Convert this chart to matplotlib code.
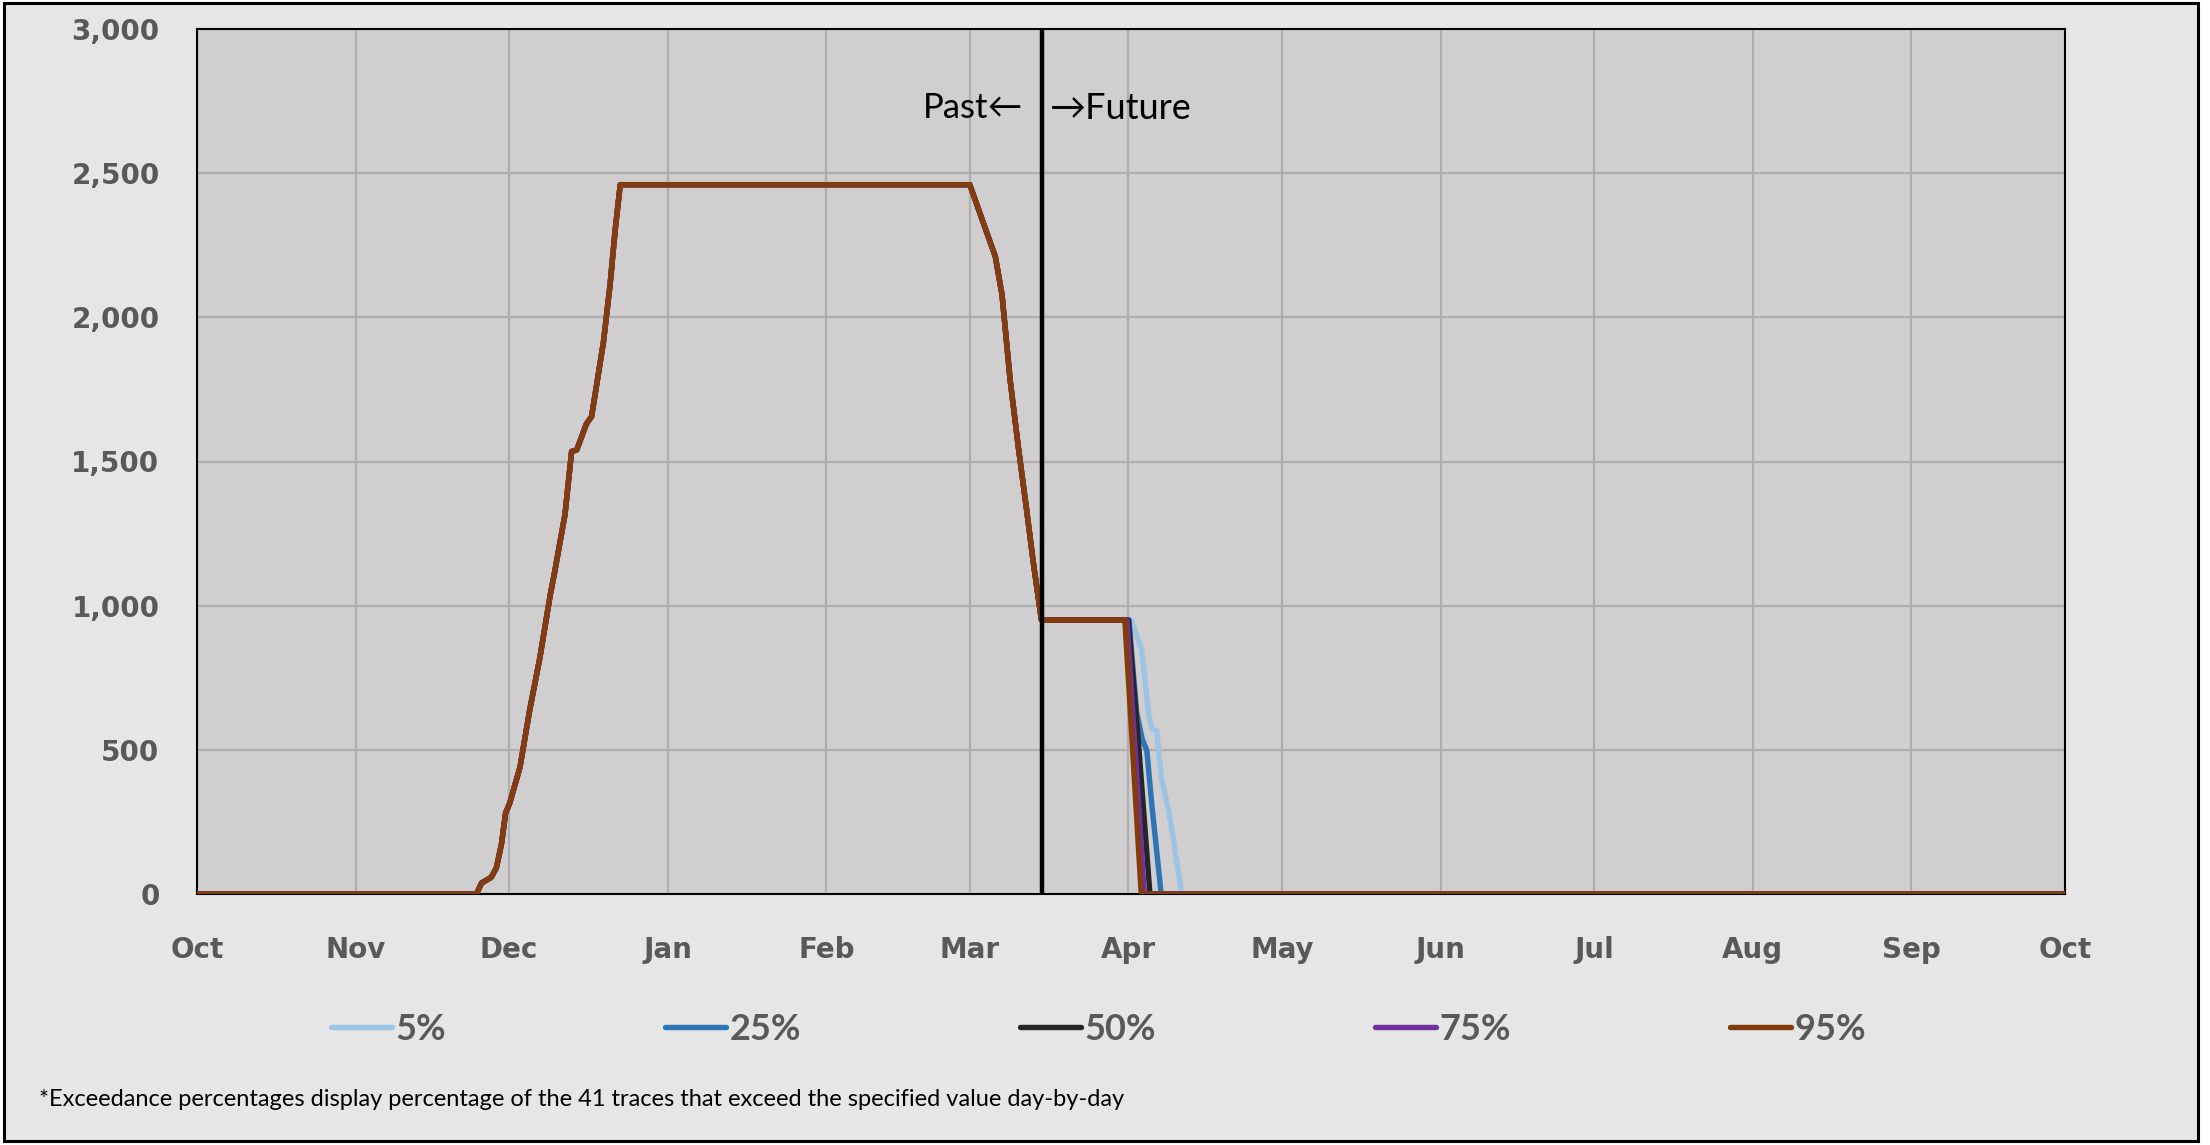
import numpy as np
import matplotlib.pyplot as plt
from matplotlib.patches import Rectangle

# water year months (Oct -> Oct)
month_labels = ['Oct', 'Nov', 'Dec', 'Jan', 'Feb', 'Mar', 'Apr', 'May', 'Jun', 'Jul', 'Aug', 'Sep', 'Oct']
month_lengths = [31, 30, 31, 31, 28, 31, 30, 31, 30, 31, 31, 30]

# shared part of all traces (day of water year, value)
common_days = [0, 54.6, 55.6, 57.5, 58.5, 59.5, 60.3, 61.1, 63.1, 65.0, 67.0, 69.0, 69.9, 71.9,
               73.2, 74.2, 76.1, 77.1, 79.4, 80.7, 81.7, 82.7, 151.0, 156.0, 157.3, 158.9,
               160.5, 162.1, 163.4, 165.0]
common_vals = [0, 0, 38, 58, 91, 174, 281, 315, 439, 637, 820, 1035, 1118, 1316,
               1535, 1540, 1631, 1656, 1912, 2111, 2301, 2460, 2460, 2210, 2078, 1780,
               1548, 1333, 1151, 950]

# the traces split apart in early April
tail_5_days = [182.5, 184.6, 185.9, 186.6, 187.5, 188.5, 189.8, 190.8, 192.4, 365]
tail_5_vals = [950, 847, 631, 572, 567, 397, 292, 187, 0, 0]
tail_25_days = [182.1, 183.6, 184.7, 185.6, 186.6, 188.4, 365]
tail_25_vals = [950, 631, 537, 497, 304, 0, 0]
tail_50_days = [182.0, 184.0, 186.2, 365]
tail_50_vals = [950, 514, 0, 0]
tail_75_days = [181.7, 185.1, 365]
tail_75_vals = [950, 0, 0]
tail_95_days = [181.3, 184.5, 365]
tail_95_vals = [950, 0, 0]

series_labels = ['5%', '25%', '50%', '75%', '95%']
series_colors = ['#9DC3E6', '#2E75B6', '#262626', '#7030A0', '#843C0C']
tails = [(tail_5_days, tail_5_vals), (tail_25_days, tail_25_vals), (tail_50_days, tail_50_vals),
         (tail_75_days, tail_75_vals), (tail_95_days, tail_95_vals)]

split_day = 165.2  # Mar 15
footnote = '*Exceedance percentages display percentage of the 41 traces that exceed the specified value day-by-day'

W, H = 2210, 1145
fig = plt.figure(figsize=(W / 100, H / 100), dpi=100)
fig.patch.set_facecolor('white')
frame = Rectangle((4 / W, 4 / H), 2194 / W, 1138 / H, transform=fig.transFigure,
                  facecolor='#E6E6E6', edgecolor='black', linewidth=2.2, zorder=-5)
fig.patches.append(frame)

ax = fig.add_axes([197 / W, 1 - 894 / H, 1868 / W, 865 / H])
ax.set_zorder(5)
ax.set_facecolor('#D0CECE')

month_ticks = np.concatenate([[0], np.cumsum(month_lengths)])

for lab, col, (td, tv) in zip(series_labels, series_colors, tails):
    ax.plot(common_days + td, common_vals + tv, color=col, lw=3.9, label=lab,
            solid_capstyle='round', solid_joinstyle='round', zorder=3)

ax.axvline(split_day, color='black', lw=3.2, zorder=4)
ax.annotate('Past←', xy=(split_day, 2726), xytext=(-14, 0), textcoords='offset points',
            ha='right', va='center', fontsize=25, family=['Lato', 'DejaVu Sans'], color='black')
ax.annotate('→Future', xy=(split_day, 2726), xytext=(5, 0), textcoords='offset points',
            ha='left', va='center', fontsize=26, family=['Lato', 'DejaVu Sans'], color='black')

ax.set_xlim(0, month_ticks[-1])
ax.set_ylim(0, 3000)
ax.set_xticks(month_ticks)
ax.set_xticklabels(month_labels)
ax.set_yticks(np.arange(0, 3001, 500))
ax.yaxis.set_major_formatter(plt.FuncFormatter(lambda v, p: f'{int(v):,}'))
ax.tick_params(length=0, labelsize=20, labelcolor='#595959')
ax.tick_params(axis='x', pad=30)
ax.tick_params(axis='y', pad=27)
for t in ax.get_xticklabels() + ax.get_yticklabels():
    t.set_fontweight('bold')
ax.grid(True, color='#AEAEAE', lw=1.6)
ax.set_axisbelow(True)
for s in ax.spines.values():
    s.set_color('black')
    s.set_linewidth(1.5)

leg = fig.legend(loc='center', bbox_to_anchor=(0.497, 1 - 1029 / H), ncol=5, frameon=False,
                 handlelength=1.7, handletextpad=0.1, columnspacing=6.05,
                 prop={'family': 'Lato', 'weight': 'bold', 'size': 26})
for t in leg.get_texts():
    t.set_color('#595959')

fig.text(39 / W, 1 - 1099 / H, footnote, ha='left', va='center', fontsize=17,
         family='Lato', color='black')

fig.savefig('out.png', dpi=100)
